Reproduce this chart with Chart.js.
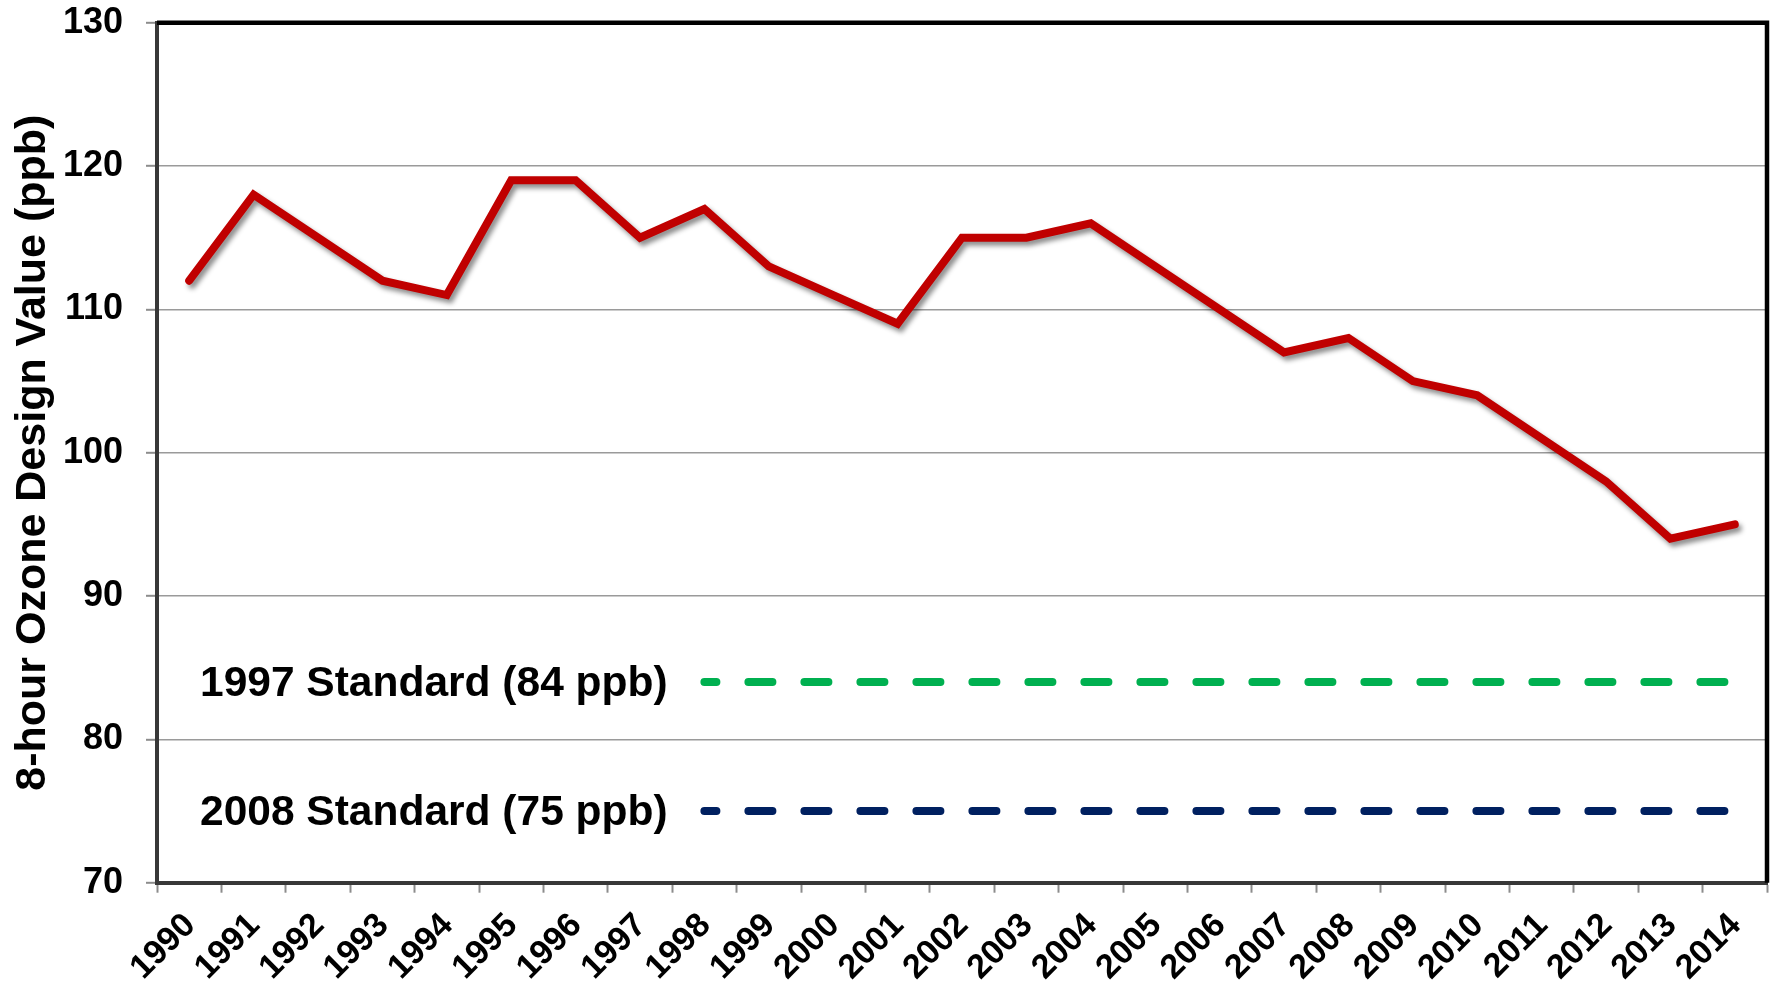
<!DOCTYPE html>
<html>
<head>
<meta charset="utf-8">
<script src="https://cdn.jsdelivr.net/npm/chart.js@4.4.1/dist/chart.umd.min.js"></script>
<style>
  html, body { margin: 0; padding: 0; background: #ffffff; }
  #wrap { width: 1775px; height: 990px; position: relative; }
</style>
</head>
<body>
<div id="wrap"><canvas id="c"></canvas></div>
<script>
// ---- data ----
const years = ['1990','1991','1992','1993','1994','1995','1996','1997','1998','1999','2000','2001','2002',
               '2003','2004','2005','2006','2007','2008','2009','2010','2011','2012','2013','2014'];
const ozoneValues = [112, 118, 115, 112, 111, 119, 119, 115, 117, 113, 111, 109, 115,
                     115, 116, 113, 110, 107, 108, 105, 104, 101, 98, 94, 95];
const standard1997 = [null, null, null, null, null, null, null, null,
                      84, 84, 84, 84, 84, 84, 84, 84, 84, 84, 84, 84, 84, 84, 84, 84, 84];
const standard2008 = [null, null, null, null, null, null, null, null,
                      75, 75, 75, 75, 75, 75, 75, 75, 75, 75, 75, 75, 75, 75, 75, 75, 75];
const standardLabels = ['1997 Standard (84 ppb)', '2008 Standard (75 ppb)'];
const standardLevels = [84, 75];
const yTicks = [70, 80, 90, 100, 110, 120, 130];
const yTitle = '8-hour Ozone Design Value (ppb)';

const FONT = '"Liberation Sans", Arial, Helvetica, sans-serif';
Chart.defaults.font.family = FONT;
Chart.defaults.color = '#000000';

const shadowPlugin = {
  id: 'lineShadow',
  beforeDatasetDraw(chart, args) {
    if (args.index !== 0) return;
    const ctx = chart.ctx;
    ctx.save();
    ctx.shadowColor = 'rgba(0,0,0,0.45)';
    ctx.shadowBlur = 5;
    ctx.shadowOffsetX = 3;
    ctx.shadowOffsetY = 4;
  },
  afterDatasetDraw(chart, args) {
    if (args.index !== 0) return;
    chart.ctx.restore();
  }
};

const labelPlugin = {
  id: 'standardLabels',
  afterDatasetsDraw(chart) {
    const ctx = chart.ctx;
    const y = chart.scales.y;
    const a = chart.chartArea;
    ctx.save();
    ctx.font = 'bold 42.5px ' + FONT;
    ctx.fillStyle = '#000000';
    ctx.textAlign = 'left';
    ctx.textBaseline = 'middle';
    standardLabels.forEach((t, i) => {
      ctx.fillText(t, a.left + 43, y.getPixelForValue(standardLevels[i]) + 2);
    });
    ctx.restore();
  }
};

const framePlugin = {
  id: 'frame',
  afterDraw(chart) {
    const ctx = chart.ctx;
    const a = chart.chartArea;
    ctx.save();
    ctx.strokeStyle = '#000000';
    ctx.lineWidth = 4.5;
    ctx.lineJoin = 'miter';
    ctx.beginPath();
    ctx.moveTo(a.left, a.top);
    ctx.lineTo(a.right, a.top);
    ctx.lineTo(a.right, a.bottom);
    ctx.stroke();
    ctx.restore();
  }
};

new Chart(document.getElementById('c'), {
  type: 'line',
  data: {
    labels: years,
    datasets: [
      {
        label: 'Ozone',
        data: ozoneValues,
        borderColor: '#C00000',
        borderWidth: 8,
        borderCapStyle: 'round',
        borderJoinStyle: 'miter',
        pointRadius: 0,
        tension: 0,
        fill: false
      },
      {
        label: '1997 Standard',
        data: standard1997,
        borderColor: '#00B050',
        borderWidth: 8,
        borderDash: [24, 32],
        borderDashOffset: 12,
        borderCapStyle: 'round',
        pointRadius: 0,
        fill: false
      },
      {
        label: '2008 Standard',
        data: standard2008,
        borderColor: '#002060',
        borderWidth: 8,
        borderDash: [24, 32],
        borderDashOffset: 12,
        borderCapStyle: 'round',
        pointRadius: 0,
        fill: false
      }
    ]
  },
  options: {
    responsive: true,
    maintainAspectRatio: false,
    animation: false,
    devicePixelRatio: 1,
    layout: { padding: { top: 22.7, right: 8, left: 0, bottom: 0 } },
    plugins: {
      legend: { display: false },
      tooltip: { enabled: false },
      title: { display: false }
    },
    scales: {
      x: {
        type: 'category',
        offset: true,
        grid: {
          offset: true,
          drawOnChartArea: false,
          drawTicks: true,
          tickLength: 10,
          tickColor: '#8c8c8c',
          tickWidth: 2
        },
        border: { display: true, color: '#383838', width: 4 },
        ticks: {
          autoSkip: false,
          maxRotation: 45,
          minRotation: 45,
          padding: 13,
          labelOffset: 1,
          color: '#000000',
          font: { size: 34, weight: 'bold' }
        },
        afterFit(s) { s.height = 107.3; s.paddingLeft = 0; s.paddingRight = 0; }
      },
      y: {
        min: 70,
        max: 130,
        afterBuildTicks(s) { s.ticks = yTicks.map(v => ({ value: v })); },
        grid: {
          color: '#9a9a9a',
          lineWidth: 1.6,
          drawTicks: true,
          tickLength: 11,
          tickColor: '#8c8c8c',
          tickWidth: 2
        },
        border: { display: true, color: '#383838', width: 4 },
        ticks: {
          padding: 23,
          color: '#000000',
          font: { size: 36, weight: 'bold' }
        },
        title: {
          display: true,
          text: yTitle,
          color: '#000000',
          font: { size: 43, weight: 'bold' },
          padding: { top: 7, bottom: 0 }
        },
        afterFit(s) { s.width = 157; s.paddingTop = 0; s.paddingBottom = 0; }
      }
    }
  },
  plugins: [shadowPlugin, labelPlugin, framePlugin]
});
</script>
</body>
</html>
